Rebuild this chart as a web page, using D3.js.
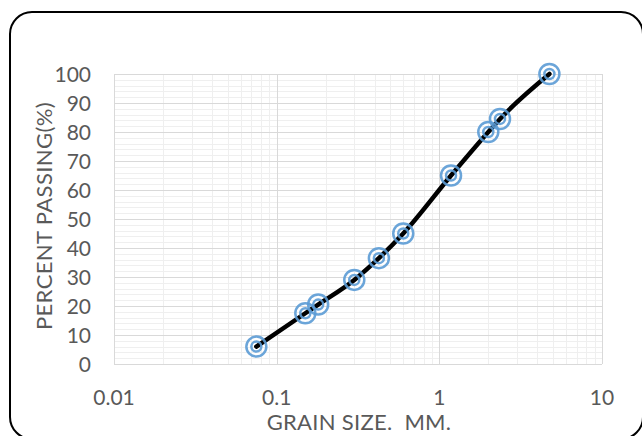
<!DOCTYPE html>
<html>
<head>
<meta charset="utf-8">
<script src="https://cdn.jsdelivr.net/npm/d3@7"></script>
<style>
  html, body { margin: 0; padding: 0; background: #fff; }
  svg { display: block; }
</style>
</head>
<body>
<svg id="chart" width="642" height="436"></svg>
<script>
// Grain size distribution — semi-log sieve curve.

const sizes = [0.075, 0.15, 0.18, 0.3, 0.425, 0.6, 1.18, 2, 2.36, 4.75];
const passing = [6, 17.5, 20.5, 29, 36.5, 45, 65, 80, 84.5, 100];
const xTicks = [0.01, 0.1, 1, 10];
const yTicks = [0, 10, 20, 30, 40, 50, 60, 70, 80, 90, 100];

const L = 114, R = 602, T = 74, B = 364;
const FONT = "Lato, 'Open Sans', sans-serif";
const TXT = "#595959";

const svg = d3.select("#chart");

svg.append("rect")
  .attr("x", 10).attr("y", 12).attr("width", 633).attr("height", 427)
  .attr("rx", 22).attr("ry", 22)
  .attr("fill", "#fff").attr("stroke", "#000").attr("stroke-width", 2);

const x = d3.scaleLog().domain([0.01, 10]).range([L, R]);
const y = d3.scaleLinear().domain([0, 100]).range([B, T]);

const grid = svg.append("g");

// minor grid
const minorX = [];
xTicks.slice(0, -1).forEach((d) => { for (let k = 2; k <= 9; k++) minorX.push(d * k); });
const minorY = d3.range(0, 100.01, 2).filter((v) => v % 10 !== 0);

grid.selectAll("line.mx").data(minorX).enter().append("line")
  .attr("x1", (d) => Math.round(x(d)) + 0.5).attr("x2", (d) => Math.round(x(d)) + 0.5)
  .attr("y1", T).attr("y2", B)
  .attr("stroke", "#efefef").attr("stroke-width", 1);
grid.selectAll("line.my").data(minorY).enter().append("line")
  .attr("y1", (d) => Math.round(y(d)) + 0.5).attr("y2", (d) => Math.round(y(d)) + 0.5)
  .attr("x1", L).attr("x2", R)
  .attr("stroke", "#efefef").attr("stroke-width", 1);

// major grid
grid.selectAll("line.Mx").data(xTicks).enter().append("line")
  .attr("x1", (d) => Math.round(x(d)) + 0.5).attr("x2", (d) => Math.round(x(d)) + 0.5)
  .attr("y1", T).attr("y2", B)
  .attr("stroke", "#d9d9d9").attr("stroke-width", 1);
grid.selectAll("line.My").data(yTicks).enter().append("line")
  .attr("y1", (d) => Math.round(y(d)) + 0.5).attr("y2", (d) => Math.round(y(d)) + 0.5)
  .attr("x1", L).attr("x2", R)
  .attr("stroke", "#d9d9d9").attr("stroke-width", 1);

// tick labels
svg.append("g").selectAll("text").data(yTicks).enter().append("text")
  .attr("x", 91).attr("y", (d) => y(d)).attr("dy", "0.36em")
  .attr("text-anchor", "end")
  .style("font", `21px ${FONT}`).style("fill", TXT)
  .text((d) => d);

svg.append("g").selectAll("text").data(xTicks).enter().append("text")
  .attr("x", (d) => x(d)).attr("y", 405)
  .attr("text-anchor", "middle")
  .style("font", `21px ${FONT}`).style("fill", TXT)
  .text((d) => d);

// axis titles
svg.append("text")
  .attr("x", (L + R) / 2 + 1).attr("y", 430)
  .attr("text-anchor", "middle").attr("xml:space", "preserve")
  .style("font", `22px ${FONT}`).style("fill", TXT)
  .style("letter-spacing", "0.3px")
  .text("GRAIN SIZE.  MM.");

svg.append("text")
  .attr("transform", `translate(52,216) rotate(-90)`)
  .attr("text-anchor", "middle")
  .style("font", `22px ${FONT}`).style("fill", TXT)
  .style("letter-spacing", "0.4px")
  .text("PERCENT PASSING(%)");

// curve
const pts = sizes.map((s, i) => [s, passing[i]]);
svg.append("path")
  .datum(pts)
  .attr("d", d3.line().x((d) => x(d[0])).y((d) => y(d[1])).curve(d3.curveMonotoneX))
  .attr("fill", "none").attr("stroke", "#000").attr("stroke-width", 4.5)
  .attr("stroke-linecap", "round");

// bullseye markers
const mk = svg.append("g").selectAll("g").data(pts).enter().append("g")
  .attr("transform", (d) => `translate(${x(d[0])},${y(d[1])})`);
mk.append("circle").attr("r", 10).attr("fill", "none")
  .attr("stroke", "#5b9bd5").attr("stroke-width", 2.5).attr("stroke-opacity", 0.9);
mk.append("circle").attr("r", 5).attr("fill", "none")
  .attr("stroke", "#5b9bd5").attr("stroke-width", 2.5).attr("stroke-opacity", 0.9);
</script>
</body>
</html>
